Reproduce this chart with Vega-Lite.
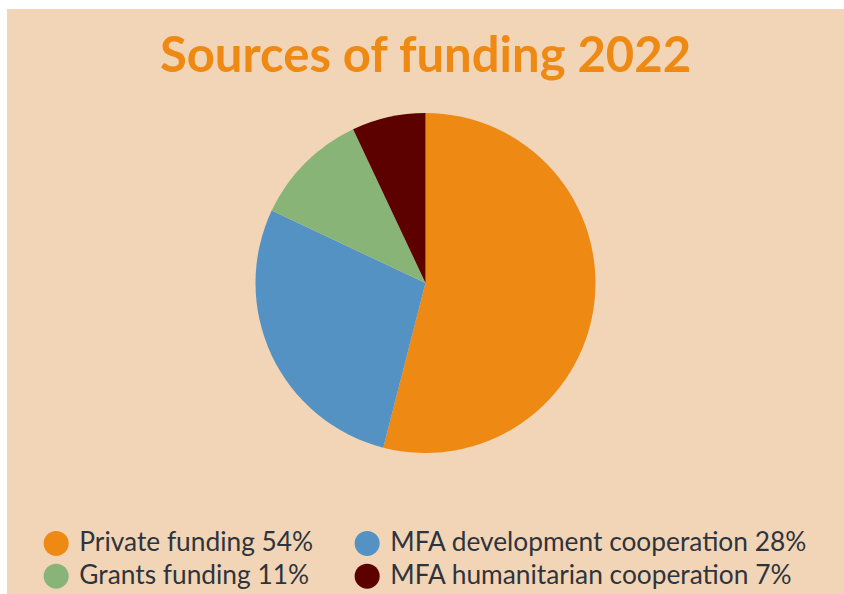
{
  "$schema": "https://vega.github.io/schema/vega-lite/v6.json",
  "width": 837,
  "height": 585,
  "autosize": "none",
  "padding": {"left": 7, "top": 9, "right": 0, "bottom": 0},
  "background": "white",
  "view": {"fill": "#F2D5B7", "stroke": null},
  "config": {
    "view": {"fill": "#F2D5B7", "stroke": null},
    "font": "Lato"
  },
  "title": {
    "text": "Sources of funding 2022",
    "font": "Lato",
    "fontSize": 49,
    "fontWeight": "bold",
    "color": "#EE8A14",
    "anchor": "middle",
    "frame": "group",
    "baseline": "alphabetic",
    "offset": -112
  },
  "data": {
    "values": [
      {"order": 1, "source": "Private funding 54%", "share": 54},
      {"order": 2, "source": "MFA development cooperation 28%", "share": 28},
      {"order": 3, "source": "Grants funding 11%", "share": 11},
      {"order": 4, "source": "MFA humanitarian cooperation 7%", "share": 7}
    ]
  },
  "mark": {"type": "arc", "outerRadius": 170, "yOffset": -18.5},
  "encoding": {
    "theta": {"field": "share", "type": "quantitative", "stack": true},
    "order": {"field": "order", "type": "quantitative"},
    "color": {
      "field": "source",
      "type": "nominal",
      "scale": {
        "domain": ["Private funding 54%", "Grants funding 11%", "MFA development cooperation 28%", "MFA humanitarian cooperation 7%"],
        "range": ["#EE8A14", "#88B577", "#5592C4", "#5C0000"]
      },
      "legend": {
        "title": null,
        "orient": "none",
        "legendX": 36,
        "legendY": 521,
        "columns": 2,
        "columnPadding": 40,
        "rowPadding": 6,
        "padding": 0,
        "symbolType": "circle",
        "symbolSize": 625,
        "symbolStrokeWidth": 0,
        "symbolOpacity": 1,
        "labelFont": "Lato",
        "labelFontSize": 26.3,
        "labelColor": "#2F343C",
        "labelOffset": 10,
        "labelLimit": 0
      }
    }
  }
}
